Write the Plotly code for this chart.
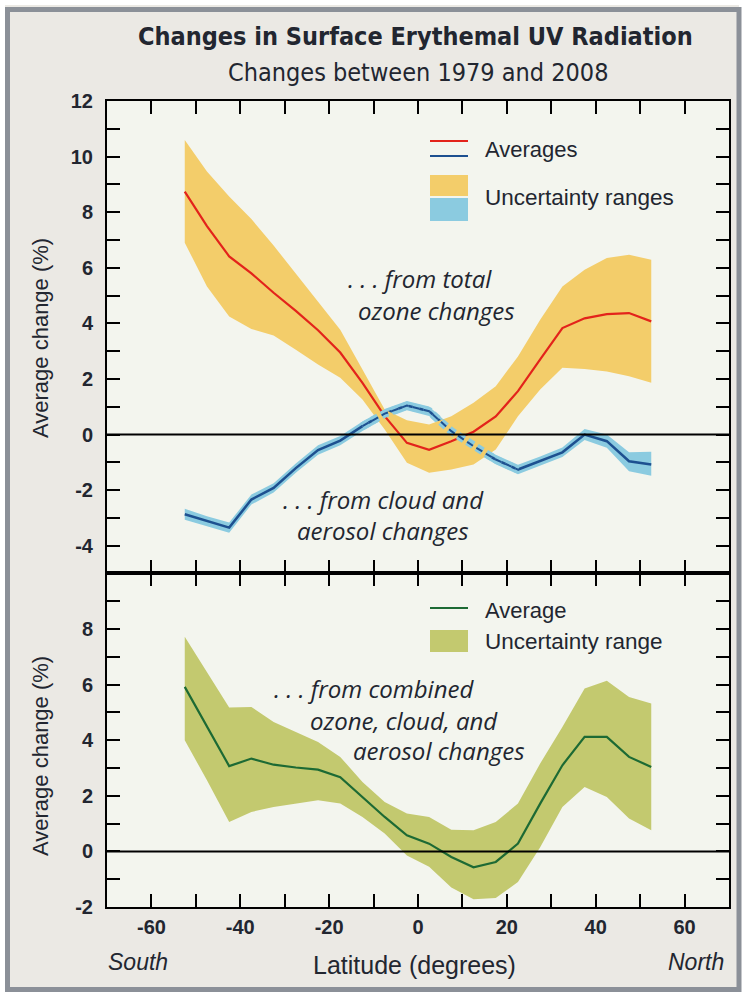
import plotly.graph_objects as go

# Latitude bin centres (degrees)
latitude = [-52.5, -47.5, -42.5, -37.5, -32.5, -27.5, -22.5, -17.5, -12.5, -7.5, -2.5,
            2.5, 7.5, 12.5, 17.5, 22.5, 27.5, 32.5, 37.5, 42.5, 47.5, 52.5]

# Change in erythemal UV from total ozone changes (%)
ozone_avg = [8.74, 7.50, 6.41, 5.80, 5.10, 4.45, 3.75, 2.95, 1.86, 0.66, -0.30,
             -0.55, -0.24, 0.10, 0.65, 1.56, 2.70, 3.83, 4.18, 4.33, 4.37, 4.07]
ozone_hi = [10.60, 9.46, 8.56, 7.75, 6.80, 5.80, 4.80, 3.77, 2.34, 0.90, 0.51,
            0.36, 0.66, 1.14, 1.74, 2.81, 4.13, 5.33, 5.93, 6.35, 6.47, 6.29]
ozone_lo = [6.90, 5.33, 4.25, 3.80, 3.56, 3.05, 2.52, 2.04, 1.26, 0.18, -1.02,
            -1.38, -1.26, -1.08, -0.54, 0.66, 1.62, 2.40, 2.36, 2.27, 2.10, 1.86]

# Change from cloud and aerosol changes (%)
cloud_avg = [-2.87, -3.12, -3.35, -2.34, -1.92, -1.21, -0.56, -0.22, 0.30, 0.75, 1.04,
             0.84, 0.12, -0.42, -0.90, -1.26, -0.96, -0.64, 0.00, -0.24, -0.96, -1.08]
cloud_hi = [-2.67, -2.94, -3.17, -2.16, -1.75, -1.04, -0.39, -0.05, 0.47, 0.92, 1.21,
            1.01, 0.29, -0.25, -0.73, -1.09, -0.79, -0.47, 0.20, 0.00, -0.64, -0.62]
cloud_lo = [-3.07, -3.30, -3.53, -2.52, -2.09, -1.38, -0.73, -0.39, 0.13, 0.58, 0.87,
            0.67, -0.05, -0.59, -1.07, -1.43, -1.13, -0.81, -0.20, -0.48, -1.32, -1.48]

# Combined ozone, cloud and aerosol change (%)
combined_avg = [5.92, 4.52, 3.07, 3.34, 3.12, 3.02, 2.94, 2.67, 1.96, 1.24, 0.58,
                0.28, -0.20, -0.57, -0.38, 0.28, 1.72, 3.10, 4.12, 4.12, 3.40, 3.04]
combined_hi = [7.72, 6.46, 5.18, 5.20, 4.66, 4.30, 3.94, 3.40, 2.50, 1.78, 1.36,
               1.24, 0.78, 0.76, 1.06, 1.72, 3.16, 4.48, 5.86, 6.14, 5.56, 5.32]
combined_lo = [4.00, 2.56, 1.06, 1.42, 1.60, 1.72, 1.84, 1.72, 1.24, 0.64, -0.15,
               -0.55, -1.30, -1.72, -1.68, -1.10, 0.15, 1.60, 2.32, 1.96, 1.18, 0.76]

# Stretch of the cloud curve that runs through the ozone band (drawn dashed)
cloud_dash_lat = latitude[8:16]
cloud_dash_avg = cloud_avg[8:16]

x_tick_vals = [-60, -40, -20, 0, 20, 40, 60]
x_tick_text = ["-60", "-40", "-20", "0", "20", "40", "60"]
top_y_vals = [-4, -2, 0, 2, 4, 6, 8, 10, 12]
top_y_text = ["-4", "-2", "0", "2", "4", "6", "8", "10", "12"]
bottom_y_vals = [-2, 0, 2, 4, 6, 8]
bottom_y_text = ["-2", "0", "2", "4", "6", "8"]

# Colours
PANEL = "#ebe9e4"
PLOT_BG = "#f3f5ee"
FRAME = "#8b9098"
ORANGE_BAND = "#f3cd6a"
RED = "#e3231b"
BLUE = "#1d5090"
BLUE_BAND = "#8bcbe0"
GREEN = "#1d6a34"
GREEN_BAND = "#c3c96f"
TEXT = "#222630"

W, H = 744, 995
ML, MR, MT, MB = 107, 15, 101, 88
PW, PH = W - ML - MR, H - MT - MB
SPLIT = 12 / 29


def px(xpix):
    return (xpix - ML) / PW


def py(ypix):
    return (H - MB - ypix) / PH


def band(lat, hi, lo):
    return lat + lat[::-1], hi + lo[::-1]


fig = go.Figure()

# ---- top panel: ozone and cloud/aerosol contributions ----
bx, by = band(latitude, cloud_hi, cloud_lo)
fig.add_trace(go.Scatter(x=bx, y=by, fill="toself", fillcolor=BLUE_BAND,
                         line=dict(width=0), mode="lines", hoverinfo="skip",
                         xaxis="x2", yaxis="y2"))
fig.add_trace(go.Scatter(x=latitude, y=cloud_avg, mode="lines",
                         line=dict(color=BLUE, width=2.5), xaxis="x2", yaxis="y2"))
ox, oy = band(latitude, ozone_hi, ozone_lo)
fig.add_trace(go.Scatter(x=ox, y=oy, fill="toself", fillcolor=ORANGE_BAND,
                         line=dict(width=0), mode="lines", hoverinfo="skip",
                         xaxis="x2", yaxis="y2"))
fig.add_trace(go.Scatter(x=latitude, y=ozone_avg, mode="lines",
                         line=dict(color=RED, width=2.2), xaxis="x2", yaxis="y2"))
fig.add_trace(go.Scatter(x=cloud_dash_lat, y=cloud_dash_avg, mode="lines",
                         line=dict(color=BLUE_BAND, width=8, dash="7px,4px"),
                         xaxis="x2", yaxis="y2"))
fig.add_trace(go.Scatter(x=cloud_dash_lat, y=cloud_dash_avg, mode="lines",
                         line=dict(color=BLUE, width=2, dash="7px,4px"),
                         xaxis="x2", yaxis="y2"))

# ---- bottom panel: combined change ----
gx, gy = band(latitude, combined_hi, combined_lo)
fig.add_trace(go.Scatter(x=gx, y=gy, fill="toself", fillcolor=GREEN_BAND,
                         line=dict(width=0), mode="lines", hoverinfo="skip",
                         xaxis="x", yaxis="y"))
fig.add_trace(go.Scatter(x=latitude, y=combined_avg, mode="lines",
                         line=dict(color=GREEN, width=2.2), xaxis="x", yaxis="y"))

tick_font = dict(family="Liberation Sans, Arial, sans-serif", size=20, color=TEXT,
                 weight="bold")
xcommon = dict(range=[-70, 70], tickmode="array", tickvals=x_tick_vals,
               ticktext=x_tick_text, ticks="inside", ticklen=13, tickwidth=2,
               tickcolor="black", showline=True, linewidth=2, linecolor="black",
               mirror="allticks", showgrid=False, zeroline=False,
               minor=dict(tickmode="linear", tick0=0, dtick=10, ticks="inside",
                          ticklen=13, tickwidth=2, tickcolor="black", showgrid=False),
               tickfont=tick_font)
ycommon = dict(tickmode="array", ticks="inside", ticklen=13, tickwidth=2,
               tickcolor="black", showline=True, linewidth=2, linecolor="black",
               mirror="allticks", showgrid=False, zeroline=False,
               minor=dict(tickmode="linear", tick0=0, dtick=1, ticks="inside",
                          ticklen=13, tickwidth=2, tickcolor="black", showgrid=False),
               tickfont=tick_font, ticklabelstandoff=8)

fig.update_layout(
    width=W, height=H, margin=dict(l=ML, r=MR, t=MT, b=MB),
    paper_bgcolor=PANEL, plot_bgcolor=PLOT_BG, showlegend=False,
    xaxis=dict(domain=[0, 1], anchor="y", ticklabelstandoff=1, **xcommon),
    xaxis2=dict(domain=[0, 1], anchor="y2", matches="x", showticklabels=False, **xcommon),
    yaxis=dict(domain=[0, SPLIT], anchor="x", range=[-2, 10],
               tickvals=bottom_y_vals, ticktext=bottom_y_text, **ycommon),
    yaxis2=dict(domain=[SPLIT, 1], anchor="x2", range=[-5, 12],
                tickvals=top_y_vals, ticktext=top_y_text, **ycommon),
)

shapes = []
# zero reference lines over the bands
for xr, yr in (("x2 domain", "y2"), ("x domain", "y")):
    shapes.append(dict(type="line", xref=xr, yref=yr, x0=0, x1=1, y0=0, y1=0,
                       line=dict(color="black", width=2), layer="above"))

# outer frame
shapes.append(dict(type="rect", xref="paper", yref="paper",
                   x0=px(0), x1=px(W), y0=py(H), y1=py(0),
                   line=dict(color="white", width=10), fillcolor="rgba(0,0,0,0)"))
shapes.append(dict(type="rect", xref="paper", yref="paper",
                   x0=px(7.5), x1=px(739), y0=py(989.5), y1=py(9.5),
                   line=dict(color=FRAME, width=5), fillcolor="rgba(0,0,0,0)"))

# legend keys
shapes += [
    dict(type="line", xref="paper", yref="paper", x0=px(430), x1=px(468),
         y0=py(141), y1=py(141), line=dict(color=RED, width=2)),
    dict(type="line", xref="paper", yref="paper", x0=px(430), x1=px(468),
         y0=py(156), y1=py(156), line=dict(color=BLUE, width=2)),
    dict(type="rect", xref="paper", yref="paper", x0=px(430), x1=px(468),
         y0=py(196), y1=py(175), line=dict(width=0), fillcolor=ORANGE_BAND),
    dict(type="rect", xref="paper", yref="paper", x0=px(430), x1=px(468),
         y0=py(221), y1=py(198), line=dict(width=0), fillcolor=BLUE_BAND),
    dict(type="line", xref="paper", yref="paper", x0=px(430), x1=px(468),
         y0=py(608), y1=py(608), line=dict(color=GREEN, width=2)),
    dict(type="rect", xref="paper", yref="paper", x0=px(430), x1=px(468),
         y0=py(652), y1=py(630), line=dict(width=0), fillcolor=GREEN_BAND),
]
fig.update_layout(shapes=shapes)

SANS = "Liberation Sans, Arial, sans-serif"
NARROW = "Liberation Sans Narrow, Arial Narrow, DejaVu Sans Condensed, sans-serif"
ITAL = "Open Sans, Liberation Sans, sans-serif"


def note(text, x, y, size=24, family=SANS, anchor="center", style="normal",
         weight="normal", angle=0):
    fig.add_annotation(text=text, x=px(x), y=py(y), xref="paper", yref="paper",
                       xanchor=anchor, yanchor="middle", showarrow=False,
                       textangle=angle,
                       font=dict(family=family, size=size, color=TEXT, style=style,
                                 weight=weight))


note("Changes in Surface Erythemal UV Radiation", 415, 37, size=25, family=NARROW,
     weight="bold")
note("Changes between 1979 and 2008", 418, 72, size=25, family=NARROW)

note("Averages", 483, 150, size=22, anchor="left")
note("Uncertainty ranges", 483, 198, size=22.5, anchor="left")
note("Average", 483, 610, size=22, anchor="left")
note("Uncertainty range", 483, 641, size=22.5, anchor="left")

note(". . . from total", 420, 278, family=ITAL, style="italic")
note("ozone changes", 436, 310, family=ITAL, style="italic")
note(". . . from cloud and", 383, 500, family=ITAL, style="italic")
note("aerosol changes", 383, 530, family=ITAL, style="italic")
note(". . . from combined", 374, 688, family=ITAL, style="italic")
note("ozone, cloud, and", 404, 720, family=ITAL, style="italic")
note("aerosol changes", 439, 750, family=ITAL, style="italic")

note("Average change (%)", 40, 338, size=22, angle=-90)
note("Average change (%)", 40, 756, size=22, angle=-90)
note("Latitude (degrees)", 414, 965, size=25)
note("South", 138, 962, size=23, style="italic")
note("North", 696, 962, size=23, style="italic")

fig.write_html("out.html")
